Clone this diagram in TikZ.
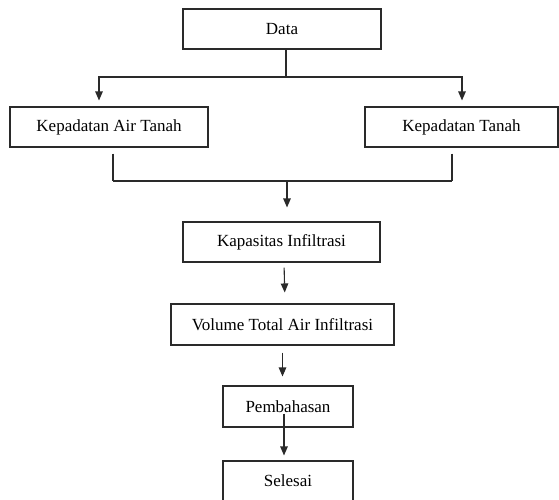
\documentclass[tikz,border=0pt]{standalone}
\usepackage{fontspec}
\setmainfont{Liberation Serif}
\usetikzlibrary{arrows.meta}
\definecolor{ink}{HTML}{2A2A2A}
\tikzset{
  box/.style={draw=ink, line width=1.1pt, inner sep=0pt, minimum height=40pt,
    font=\fontsize{17}{20}\selectfont, text=black},
  link/.style={draw=ink, line width=1.1pt},
  arr/.style={link, -{Triangle[length=9pt,width=7.5pt]}}
}
\begin{document}
\begin{tikzpicture}[x=1pt,y=-1pt]
\useasboundingbox (0,0) rectangle (559,499);
\clip (0,0) rectangle (559,499);
\node[box, minimum width=198pt] (data) at (282,29) {Data};
\node[box, minimum width=198pt] (left) at (109,127) {Kepadatan Air Tanah};
\node[box, minimum width=193pt] (right) at (461.5,127) {Kepadatan Tanah};
\node[box, minimum width=197pt] (kap) at (281.5,242) {Kapasitas Infiltrasi};
\node[box, minimum width=223pt, minimum height=41pt] (vol) at (282.5,324.5) {Volume Total Air Infiltrasi};
\node[box, minimum width=130pt, minimum height=41pt] (pem) at (288,406.5) {Pembahasan};
\node[box, minimum width=130pt] (sel) at (288,481) {Selesai};
% split from Data
\coordinate (j) at (286,77);
\coordinate (aL) at (99,77);
\coordinate (aR) at (462,77);
\draw[link] (data.south -| j) -- (j);
\draw[arr, shorten >=6pt] (j) -- (aL) -- (left.north -| aL);
\draw[arr, shorten >=6pt] (j) -- (aR) -- (right.north -| aR);
% merge into Kapasitas
\coordinate (bL) at (113,181);
\coordinate (bR) at (452,181);
\coordinate (bC) at (287,181);
\draw[link, shorten <=6pt] (left.south -| bL) -- (bL);
\draw[link, shorten <=6pt] (right.south -| bR) -- (bR);
\draw[link] (bL) -- (bR);
\draw[arr, shorten >=14pt] (bC) -- (kap.north -| bC);
% chain
\draw[arr, shorten <=5pt, shorten >=11pt] ([xshift=2.5pt]kap.south) -- ([xshift=2.5pt]vol.north);
\draw[arr, shorten <=7pt, shorten >=9pt] (vol.south) -- (pem.north -| vol.south);
\draw[arr, shorten <=-14pt, shorten >=5pt] ([xshift=-4pt]pem.south) -- ([xshift=-4pt]sel.north);
\end{tikzpicture}
\end{document}
